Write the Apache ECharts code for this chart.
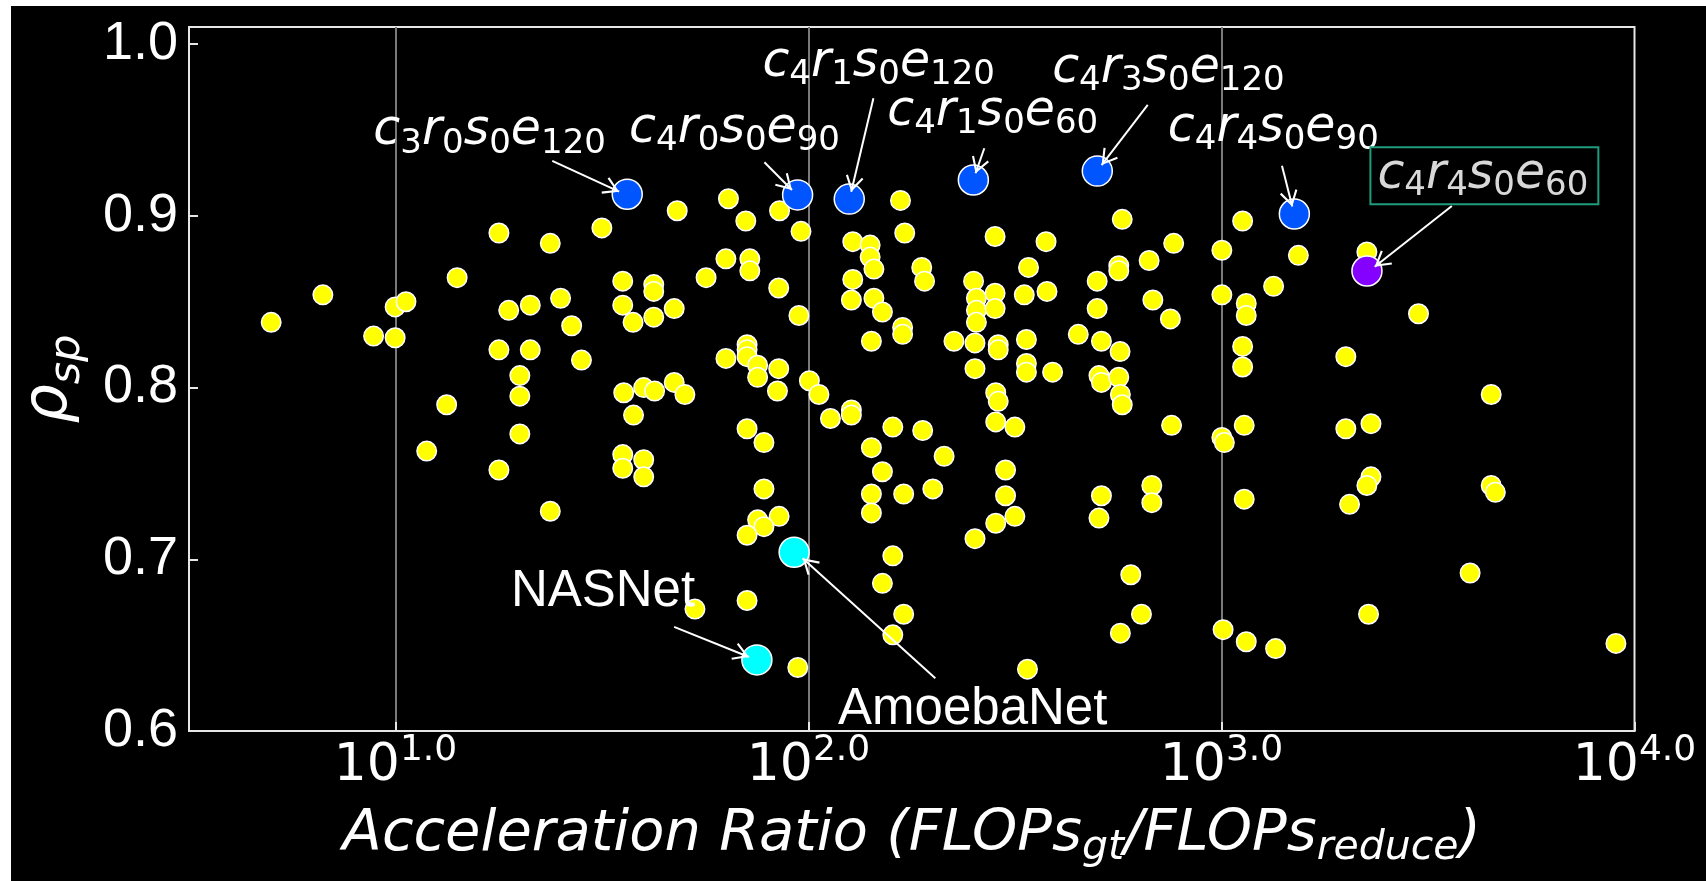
<!DOCTYPE html>
<html><head><meta charset="utf-8">
<script src="https://cdn.jsdelivr.net/npm/echarts@6/dist/echarts.min.js"></script>
<style>
html,body{margin:0;padding:0;background:#fff;width:1706px;height:881px;overflow:hidden;}
#chart{position:absolute;left:11px;top:6px;width:1695px;height:875px;background:#000;}
</style></head><body><div id="chart"></div>
<script>
// ---- data: other sampled architectures (acceleration ratio, rho_sp) ----
const otherRatio = [5.00,6.67,8.85,9.98,9.98,10.6,14.1,17.8,23.7,31.6,18.8,21.2,25.1,26.7,17.8,21.2,28.2,20.0,20.0,13.3,20.0,35.5,35.5,37.6,35.7,37.7,11.9,17.8,23.7,35.5,35.5,
48.1,64.0,70.5,85.1,95.9,167,171,283,376,42.2,42.2,47.3,42.2,56.5,63.1,72.1,72.1,84.7,94.8,128,141,141,144,128,127,144,151,188,191,169,169,142,251,255,255,255,283,283,341,333,378,225,253,288,288,337,450,253,337,337,390,284,288,284,316,
63.1,71.0,71.0,71.0,75.3,75.3,84.7,100.5,106,84.1,39.9,42.4,47.3,50.2,71.0,113,127,127,160,189,
78.0,39.9,39.9,78.0,84.9,75.3,78.0,71.0,71.0,53.1,94.2,142,213,151,300,142,170,200,300,142,316,284,253,160,151,170,160,339,
575,1125,766,1002,1535,2249,668,564,564,500,500,682,752,1002,1148,1148,1337,2999,512,568,505,512,564,569,575,1125,1125,2000,4498,757,1135,2000,2301,
1002,1016,512,505,678,678,1135,2301,2249,2042,4498,4603,603,640,569,1009,1148,1352,2270,3999,9016];
const otherRho = [0.838,0.854,0.830,0.829,0.847,0.850,0.864,0.890,0.884,0.893,0.845,0.848,0.852,0.836,0.822,0.822,0.816,0.807,0.795,0.790,0.773,0.862,0.848,0.838,0.797,0.784,0.763,0.752,0.728,0.761,0.753,
0.903,0.910,0.897,0.903,0.891,0.909,0.890,0.888,0.885,0.860,0.856,0.846,0.841,0.864,0.875,0.875,0.868,0.858,0.842,0.885,0.883,0.876,0.869,0.863,0.851,0.852,0.844,0.870,0.862,0.835,0.831,0.827,0.862,0.852,0.845,0.838,0.855,0.846,0.870,0.854,0.856,0.827,0.826,0.825,0.822,0.828,0.831,0.811,0.814,0.809,0.809,0.797,0.792,0.780,0.777,
0.817,0.825,0.822,0.818,0.813,0.806,0.811,0.804,0.796,0.798,0.800,0.798,0.803,0.796,0.776,0.782,0.787,0.784,0.777,0.775,
0.768,0.758,0.748,0.741,0.725,0.723,0.719,0.714,0.676,0.671,0.637,0.765,0.760,0.751,0.752,0.738,0.738,0.741,0.737,0.727,0.725,0.721,0.712,0.702,0.686,0.668,0.656,0.636,
0.898,0.897,0.884,0.880,0.877,0.879,0.874,0.871,0.868,0.862,0.846,0.851,0.840,0.854,0.849,0.842,0.859,0.843,0.827,0.821,0.807,0.803,0.806,0.796,0.790,0.824,0.812,0.818,0.796,0.778,0.778,0.776,0.779,
0.771,0.768,0.737,0.724,0.743,0.733,0.735,0.748,0.743,0.732,0.743,0.739,0.691,0.668,0.657,0.659,0.652,0.648,0.668,0.692,0.651];

// searched architectures (blue)
const searchedNames = ['c3r0s0e120','c4r0s0e90','c4r1s0e120','c4r1s0e60','c4r3s0e120','c4r4s0e90'];
const searchedRatio = [36.4, 94.1, 125.5, 250.7, 500.3, 1501];
const searchedRho = [0.9126, 0.9122, 0.9098, 0.9209, 0.9261, 0.9011];
// hand-crafted / reference (cyan)
const refNames = ['NASNet', 'AmoebaNet'];
const refRatio = [75.0, 92.3];
const refRho = [0.6414, 0.7041];
// chosen (purple)
const bestNames = ['c4r4s0e60'];
const bestRatio = [2250];
const bestRho = [0.8679];

// annotations: text anchor and arrow (from -> to), in data units
const annTexts = ['c3r0s0e120','c4r0s0e90','c4r1s0e120','c4r1s0e60','c4r3s0e120','c4r4s0e90','c4r4s0e60','NASNet','AmoebaNet'];
const annTextX = [16.9, 66.2, 147.9, 279.3, 744, 1335, 4330, 31.8, 249.8];
const annTextY = [0.949, 0.9505, 0.989, 0.9605, 0.9855, 0.9513, 0.9234, 0.6808, 0.612];
const arrowFromX = [23.96, 78.2, 143.6, 266.5, 662.8, 1401, 3612, 47.27, 202.8];
const arrowFromY = [0.932, 0.9312, 0.9685, 0.9394, 0.9646, 0.9292, 0.9058, 0.6606, 0.6307];
const arrowToX = [34.79, 91.2, 126.9, 253.8, 512.5, 1484, 2349, 71.77, 96.76];
const arrowToY = [0.9141, 0.9151, 0.9141, 0.9248, 0.9296, 0.9054, 0.8704, 0.6431, 0.7006];

const yTicks = [0.6, 0.7, 0.8, 0.9, 1.0];

function pairs(xs, ys) { return xs.map((x, i) => [x, ys[i]]); }
function mathLabel(s) {
  if (/\d/.test(s)) return s.replace(/([a-z])(\d+)/g, '{i|$1}{d|$2}');
  return '{t|' + s + '}';
}
function richSet(col, lh) {
  return {
    i: { fontFamily: 'DejaVu Sans', fontStyle: 'italic', fontSize: 49, lineHeight: lh, color: col, textBorderWidth: 0 },
    d: { fontFamily: 'DejaVu Sans', fontSize: 34, lineHeight: 34, verticalAlign: 'bottom', color: col, textBorderWidth: 0 },
    t: { fontFamily: 'Liberation Sans', fontSize: 51, lineHeight: 58, color: col, textBorderWidth: 0 }
  };
}
const mathRich = richSet('#ffffff', 58);
const boxRich = richSet('#d8d8d8', 55);

const annData = annTexts.map((t, i) => {
  const boxed = bestNames.indexOf(t) >= 0;
  return {
    value: [annTextX[i], annTextY[i]],
    label: {
      show: true, position: 'inside', formatter: mathLabel(t),
      color: '#fff', opacity: 1, textBorderWidth: 0, textShadowBlur: 0,
      rich: boxed ? boxRich : mathRich,
      backgroundColor: boxed ? '#000' : 'transparent',
      borderColor: boxed ? '#1e9c7c' : 'transparent',
      borderWidth: boxed ? 2 : 0,
      padding: boxed ? [0, 9, 0, 6] : 0
    }
  };
});
const arrowData = annTexts.map((t, i) => [
  { coord: [arrowFromX[i], arrowFromY[i]] },
  { coord: [arrowToX[i], arrowToY[i]] }
]);
// open arrow head whose tip sits at the centre of its bounding box
const arrowHead = 'path://M5,-9.7 L5,-9.7 M5,0 L10,9 L9,9.7 L5,2.4 L1,9.7 L0,9 Z';

const chart = echarts.init(document.getElementById('chart'));
const axisColor = '#e6e6e6';
chart.setOption({
  backgroundColor: '#000',
  animation: false,
  grid: { left: 176.5, right: 71.5, top: 21, bottom: 150, show: true, borderColor: axisColor, borderWidth: 2, backgroundColor: 'transparent' },
  xAxis: {
    type: 'log', logBase: 10, min: 3.1623, max: 10000,
    axisLine: { show: true, lineStyle: { color: axisColor, width: 2 } },
    axisTick: { show: true, inside: true, length: 9, lineStyle: { color: axisColor, width: 2 } },
    splitLine: { show: true, showMinLine: false, showMaxLine: false, lineStyle: { color: '#7a7a7a', width: 2 } },
    axisLabel: {
      margin: 2,
      formatter: function (v) {
        const l = Math.log10(v), r = Math.round(l);
        if (Math.abs(l - r) > 1e-6) return '';
        return '{b|10}{s|' + r + '.0}';
      },
      rich: {
        b: { fontFamily: 'DejaVu Sans', fontSize: 52, lineHeight: 66, color: '#fff' },
        s: { fontFamily: 'DejaVu Sans', fontSize: 36, lineHeight: 36, verticalAlign: 'top', color: '#fff' }
      }
    },
    name: '{m|Acceleration Ratio (FLOPs}{s|gt}{m|/FLOPs}{s|reduce}{m|)}',
    nameLocation: 'middle', nameGap: 70,
    nameTextStyle: {
      rich: {
        m: { fontFamily: 'DejaVu Sans', fontStyle: 'italic', fontSize: 57.5, lineHeight: 68, color: '#fff' },
        s: { fontFamily: 'DejaVu Sans', fontStyle: 'italic', fontSize: 41, lineHeight: 41, verticalAlign: 'bottom', color: '#fff' }
      }
    }
  },
  yAxis: {
    type: 'value', min: 0.6, max: 1.01, interval: 0.1,
    axisLine: { show: true, lineStyle: { color: axisColor, width: 2 } },
    axisTick: { show: true, inside: true, length: 9, lineStyle: { color: axisColor, width: 2 } },
    splitLine: { show: false },
    axisLabel: {
      margin: 11, fontFamily: 'Liberation Sans', fontSize: 54, color: '#fff',
      formatter: function (v) {
        return yTicks.some(t => Math.abs(t - v) < 1e-6) ? v.toFixed(1) : '';
      }
    },
    name: '{r|ρ}{s|sp}', nameLocation: 'middle', nameGap: 100, nameRotate: 90,
    nameTextStyle: {
      rich: {
        r: { fontFamily: 'DejaVu Sans', fontStyle: 'italic', fontSize: 62, lineHeight: 78, color: '#fff' },
        s: { fontFamily: 'DejaVu Sans', fontStyle: 'italic', fontSize: 43, lineHeight: 43, verticalAlign: 'bottom', color: '#fff' }
      }
    }
  },
  series: [
    { name: 'others', type: 'scatter', data: pairs(otherRatio, otherRho), symbolSize: 19.5,
      itemStyle: { color: '#ffff00', borderColor: '#fff', borderWidth: 1.5, opacity: 1 }, emphasis: { disabled: true } },
    { name: 'searched', type: 'scatter', data: pairs(searchedRatio, searchedRho), symbolSize: 30,
      itemStyle: { color: '#0055ff', borderColor: '#fff', borderWidth: 1.5, opacity: 1 }, emphasis: { disabled: true } },
    { name: 'reference', type: 'scatter', data: pairs(refRatio, refRho), symbolSize: 30,
      itemStyle: { color: '#00ffff', borderColor: '#fff', borderWidth: 1.5, opacity: 1 }, emphasis: { disabled: true } },
    { name: 'best', type: 'scatter', data: pairs(bestRatio, bestRho), symbolSize: 30,
      itemStyle: { color: '#8400ff', borderColor: '#fff', borderWidth: 1.5, opacity: 1 }, emphasis: { disabled: true } },
    { name: 'annotations', type: 'scatter', data: annData, symbolSize: 0, z: 5,
      itemStyle: { color: '#000' }, emphasis: { disabled: true },
      markLine: {
        silent: true, animation: false,
        symbol: ['none', arrowHead], symbolSize: [18, 32],
        lineStyle: { color: '#fff', width: 2, type: 'solid' },
        label: { show: false }, emphasis: { disabled: true },
        data: arrowData
      }
    }
  ]
});
</script></body></html>
